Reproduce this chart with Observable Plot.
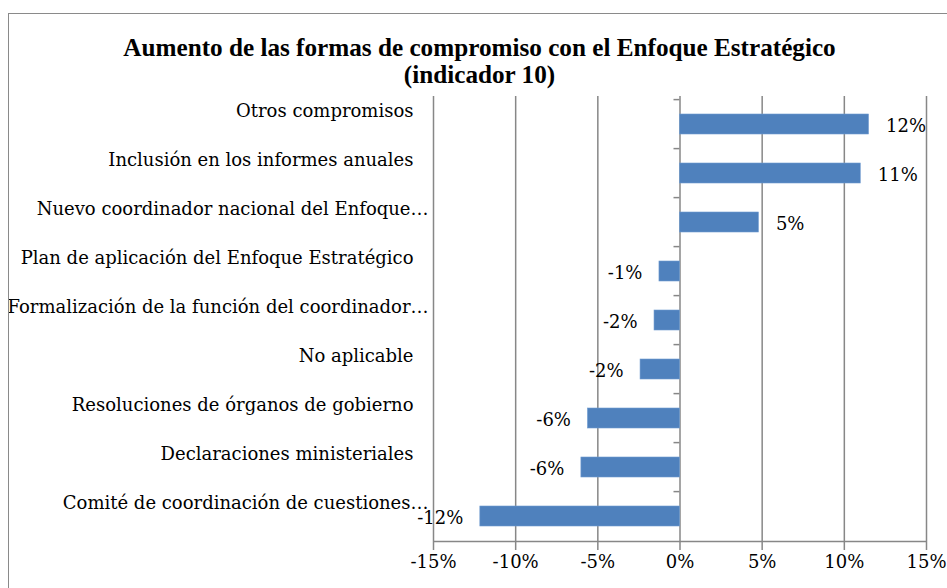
<!DOCTYPE html>
<html>
<head>
<meta charset="utf-8">
<script src="https://cdn.jsdelivr.net/npm/d3@7"></script>
<script src="https://cdn.jsdelivr.net/npm/@observablehq/plot@0.6"></script>
<style>
  html, body { margin: 0; padding: 0; background: #fff; overflow: hidden; }
  #wrap { position: relative; width: 947px; height: 588px; }
  #border { position: absolute; left: 8px; top: 13px; width: 1000px; height: 1000px;
            border: 1.5px solid #8a8a8a; box-sizing: border-box; pointer-events: none; }
  #title { position: relative; width: 959px; height: 90px; box-sizing: border-box; padding-top: 34px;
           font: bold 25.2px/27px "Liberation Serif", serif; text-align: center; color: #000; }
  #chart svg { display: block; }
</style>
</head>
<body>
<div id="wrap">
  <div id="border"></div>
  <div id="title">Aumento de las formas de compromiso con el Enfoque Estratégico<br>(indicador 10)</div>
  <div id="chart"></div>
</div>
<script>
const categories = [
  "Otros compromisos",
  "Inclusión en los informes anuales",
  "Nuevo coordinador nacional del Enfoque…",
  "Plan de aplicación del Enfoque Estratégico",
  "Formalización de la función del coordinador…",
  "No aplicable",
  "Resoluciones de órganos de gobierno",
  "Declaraciones ministeriales",
  "Comité de coordinación de cuestiones…"
];
const values = [11.5, 11.0, 4.8, -1.25, -1.55, -2.4, -5.6, -6.0, -12.15];
const valueLabels = ["12%", "11%", "5%", "-1%", "-2%", "-2%", "-6%", "-6%", "-12%"];
const xTicks = [-15, -10, -5, 0, 5, 10, 15];
const gridTicks = [-15, -10, -5, 5, 10, 15];

const data = categories.map((c, i) => ({category: c, value: values[i], label: valueLabels[i]}));

const W = 947, H = 498, mT = 6, mB = 44, mL = 433, mR = 21;
const step = (H - mT - mB) / categories.length;
const font = "DejaVu Serif";
const fs = 18;
const gray = "#878787";

const plot = Plot.plot({
  width: W, height: H,
  marginTop: mT, marginBottom: mB, marginLeft: mL, marginRight: mR,
  style: {fontFamily: font, fontSize: fs + "px", color: "#000", background: "#fff", overflow: "visible"},
  x: {domain: [-15, 15], ticks: xTicks, label: null},
  y: {domain: categories, paddingInner: 0.6, paddingOuter: 0.3, label: null, axis: null},
  marks: [
    Plot.ruleX(gridTicks, {stroke: gray, strokeWidth: 1.5}),
    Plot.ruleX([0], {stroke: gray, strokeWidth: 1.5}),
    Plot.ruleY(categories, {y: d => d, x1: 0, x2: 0, insetLeft: -6, dy: -step / 2, stroke: gray, strokeWidth: 1.5}),
    Plot.ruleY([categories[categories.length - 1]], {y: d => d, x1: -15, x2: 15, dy: step / 2, stroke: gray, strokeWidth: 1.5}),
    Plot.barX(data, {x: "value", y: "category", fill: "#4F81BD", stroke: "#6f9bd0", strokeWidth: 0.6}),
    Plot.text(data.filter(d => d.value >= 0), {x: "value", y: "category", text: "label", textAnchor: "start", dx: 17, dy: 2, fill: "#000", fontSize: fs}),
    Plot.text(data.filter(d => d.value < 0), {x: "value", y: "category", text: "label", textAnchor: "end", dx: -17, dy: 2, fill: "#000", fontSize: fs}),
    Plot.text(categories.filter(c => !c.endsWith("…")), {y: d => d, frameAnchor: "left", textAnchor: "end", dx: -20, dy: -13, fill: "#000", fontSize: fs}),
    Plot.text(categories.filter(c => c.endsWith("…")), {y: d => d, frameAnchor: "left", textAnchor: "end", dx: -5, dy: -13, fill: "#000", fontSize: fs}),
    Plot.axisX({ticks: xTicks, tickFormat: d => d + "%", tickSize: 6, tickPadding: 5, stroke: gray, strokeWidth: 1.5, fill: "#000", fontSize: fs, label: null})
  ]
});
document.getElementById("chart").appendChild(plot);
</script>
</body>
</html>
